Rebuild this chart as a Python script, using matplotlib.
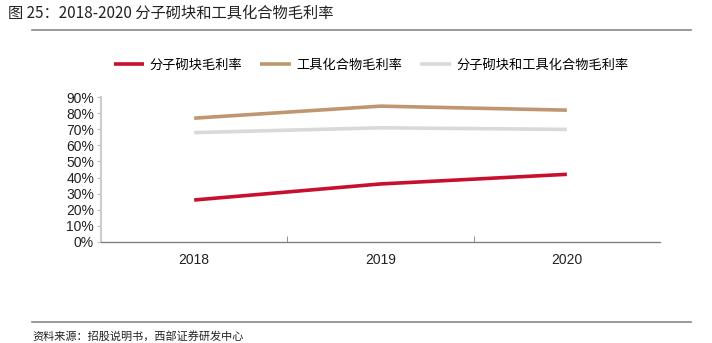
import matplotlib
matplotlib.use("Agg")
import matplotlib.pyplot as plt
from matplotlib.ticker import PercentFormatter, FixedLocator

plt.rcParams['font.family'] = ['Noto Sans CJK SC', 'DejaVu Sans']

# 数据
years = ['2018', '2019', '2020']
mol_block = [0.26, 0.36, 0.42]
tool_comp = [0.77, 0.845, 0.82]
combined = [0.68, 0.71, 0.70]

series_names = ['分子砌块毛利率', '工具化合物毛利率', '分子砌块和工具化合物毛利率']
colors = ['#C8102E', '#BF9670', '#D9D9D9']

fig = plt.figure(figsize=(7.12, 3.43), dpi=100)
ax = fig.add_axes([0.1419, 0.2953, 0.7851, 0.421])

x = range(len(years))
for vals, name, c in zip([mol_block, tool_comp, combined], series_names, colors):
    ax.plot(x, vals, color=c, lw=2.6, label=name, solid_capstyle='butt')

ax.set_xlim(-0.5, 2.5)
ax.set_ylim(0, 0.9)
ax.set_yticks([i / 10 for i in range(10)])
ax.yaxis.set_major_formatter(PercentFormatter(1.0, decimals=0))
ax.set_xticks(list(x))
ax.set_xticklabels(years)
ax.xaxis.set_minor_locator(FixedLocator([0.5, 1.5]))

num_font = ['Liberation Sans', 'DejaVu Sans']
for lab in ax.get_xticklabels() + ax.get_yticklabels():
    lab.set_family(num_font)
    lab.set_fontsize(10)
    lab.set_color('#222222')

ax.tick_params(axis='x', which='major', length=0, pad=8)
ax.tick_params(axis='x', which='minor', length=4, direction='in', color='#808080')
ax.tick_params(axis='y', length=3, direction='out', color='#BBBBBB', pad=2)

for s in ['top', 'right']:
    ax.spines[s].set_visible(False)
ax.spines['left'].set_color('#CCCCCC')
ax.spines['left'].set_linewidth(1.5)
ax.spines['bottom'].set_color('#808080')
ax.spines['bottom'].set_linewidth(1.0)

leg = fig.legend(loc='center', bbox_to_anchor=(0.521, 0.81), ncol=3, frameon=False,
                 fontsize=9.5, handlelength=2.3, handletextpad=0.4, columnspacing=1.4)

# 标题与来源
fig.text(0.011, 0.963, '图 25：2018-2020 分子砌块和工具化合物毛利率', fontsize=11, color='#222222',
         va='center', ha='left')
fig.add_artist(plt.Line2D([0.045, 0.97], [0.913, 0.913], color='#888888', lw=1.2))
fig.add_artist(plt.Line2D([0.045, 0.97], [0.06, 0.06], color='#888888', lw=1.2))
fig.text(0.045, 0.02, '资料来源：招股说明书，西部证券研发中心', fontsize=8, color='#222222',
         va='center', ha='left')

fig.savefig('out.png', dpi=100)
